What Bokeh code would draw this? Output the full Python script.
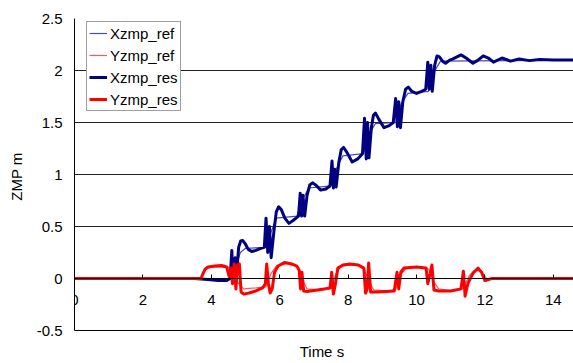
from bokeh.plotting import figure
from bokeh.models import LinearAxis, FixedTicker, Legend, LegendItem
from bokeh.embed import file_html
from bokeh.resources import INLINE

# ---- data (time s, ZMP m) ----
xzmp_ref = [(0, 0), (4.5, 0), (4.65, 0.05), (4.85, 0.25), (5.0, 0.29), (5.6, 0.3), (5.75, 0.45),
            (5.9, 0.58), (6.5, 0.6), (6.65, 0.75), (6.85, 0.87), (7.5, 0.89), (7.65, 1.05),
            (7.85, 1.18), (8.45, 1.2), (8.6, 1.38), (8.8, 1.49), (9.4, 1.5), (9.55, 1.68),
            (9.75, 1.78), (10.35, 1.8), (10.5, 1.98), (10.7, 2.09), (14.6, 2.1)]

yzmp_ref = [(0, 0), (3.7, 0), (3.85, 0.09), (4.0, 0.11), (4.5, 0.11), (4.65, 0.05), (4.8, -0.05),
            (4.95, -0.1), (5.3, -0.09), (5.6, -0.08), (5.75, 0.05), (5.9, 0.12), (6.2, 0.14),
            (6.5, 0.12), (6.65, 0.0), (6.8, -0.1), (7.2, -0.11), (7.5, -0.1), (7.65, 0.05),
            (7.8, 0.12), (8.2, 0.13), (8.45, 0.11), (8.6, -0.02), (8.75, -0.11), (9.2, -0.12),
            (9.4, -0.1), (9.55, 0.04), (9.7, 0.1), (10.1, 0.11), (10.35, 0.09), (10.5, -0.03),
            (10.65, -0.1), (11.1, -0.12), (11.35, -0.1), (11.55, 0.03), (11.7, 0.08),
            (11.9, 0.07), (12.05, 0.0), (14.6, 0.0)]

xzmp_res = [(0, 0), (3.5, 0), (3.9, -0.01), (4.2, -0.02), (4.45, -0.02), (4.55, 0.0), (4.6, 0.27),
            (4.64, -0.03), (4.7, 0.2), (4.74, 0.05), (4.8, 0.3), (4.86, 0.36), (4.92, 0.365),
            (5.0, 0.33), (5.08, 0.28), (5.18, 0.26), (5.3, 0.27), (5.45, 0.29), (5.55, 0.3),
            (5.6, 0.58), (5.65, 0.25), (5.7, 0.5), (5.75, 0.2), (5.83, 0.45), (5.9, 0.64),
            (5.97, 0.69), (6.05, 0.66), (6.15, 0.58), (6.27, 0.53), (6.4, 0.56), (6.55, 0.6),
            (6.6, 0.82), (6.64, 0.6), (6.68, 0.8), (6.73, 0.6), (6.8, 0.8), (6.88, 0.9),
            (6.96, 0.92), (7.05, 0.9), (7.2, 0.85), (7.35, 0.86), (7.47, 0.89), (7.53, 1.13),
            (7.57, 0.87), (7.61, 1.05), (7.65, 0.88), (7.73, 1.12), (7.8, 1.24), (7.87, 1.26),
            (7.97, 1.21), (8.12, 1.12), (8.28, 1.15), (8.42, 1.2), (8.48, 1.54), (8.53, 1.15),
            (8.57, 1.5), (8.61, 1.16), (8.68, 1.45), (8.74, 1.57), (8.8, 1.59), (8.9, 1.53),
            (9.05, 1.45), (9.2, 1.47), (9.32, 1.5), (9.39, 1.73), (9.44, 1.46), (9.48, 1.7),
            (9.53, 1.45), (9.6, 1.7), (9.68, 1.82), (9.76, 1.84), (9.86, 1.8), (10.0, 1.78),
            (10.15, 1.8), (10.27, 1.82), (10.33, 2.08), (10.37, 1.82), (10.42, 2.05),
            (10.46, 1.8), (10.53, 2.05), (10.6, 2.14), (10.67, 2.13), (10.76, 2.09),
            (10.85, 2.07), (10.97, 2.1), (11.05, 2.11), (11.3, 2.15), (11.45, 2.12),
            (11.65, 2.07), (11.8, 2.1), (11.95, 2.14), (12.1, 2.12), (12.25, 2.08), (12.5, 2.12),
            (12.75, 2.09), (13.0, 2.11), (13.3, 2.095), (13.6, 2.105), (14.0, 2.1), (14.6, 2.1)]

yzmp_res = [(0, 0), (3.7, 0), (3.76, 0.05), (3.82, 0.09), (3.9, 0.11), (4.1, 0.12), (4.3, 0.125),
            (4.45, 0.11), (4.52, 0.02), (4.58, 0.1), (4.62, -0.05), (4.67, 0.14), (4.72, -0.1),
            (4.77, 0.13), (4.82, 0.14), (4.87, -0.13), (4.95, -0.15), (5.1, -0.14), (5.3, -0.12),
            (5.5, -0.09), (5.58, -0.05), (5.62, 0.14), (5.67, -0.05), (5.72, -0.14), (5.78, -0.1),
            (5.85, 0.06), (5.95, 0.12), (6.15, 0.155), (6.35, 0.14), (6.5, 0.12), (6.57, 0.08),
            (6.61, -0.1), (6.65, 0.06), (6.7, -0.12), (6.8, -0.125), (7.0, -0.115), (7.3, -0.1),
            (7.47, -0.09), (7.52, 0.06), (7.57, -0.15), (7.63, -0.05), (7.7, 0.1), (7.85, 0.13),
            (8.05, 0.14), (8.3, 0.13), (8.46, 0.1), (8.51, -0.14), (8.56, -0.1), (8.6, 0.15),
            (8.66, -0.13), (8.8, -0.13), (9.1, -0.125), (9.35, -0.12), (9.43, 0.06), (9.48, -0.1),
            (9.54, 0.06), (9.63, 0.1), (10.0, 0.11), (10.28, 0.1), (10.33, -0.05), (10.4, 0.05),
            (10.45, 0.13), (10.51, -0.11), (10.65, -0.12), (11.0, -0.12), (11.3, -0.1),
            (11.37, 0.07), (11.42, -0.17), (11.5, -0.05), (11.65, 0.05), (11.8, 0.1),
            (11.9, 0.06), (12.0, -0.02), (12.2, 0.0), (14.6, 0.0)]

x_ticks = [0, 2, 4, 6, 8, 10, 12, 14]
x_tick_labels = ["0", "2", "4", "6", "8", "10", "12", "14"]
y_ticks = [-0.5, 0, 0.5, 1, 1.5, 2, 2.5]
y_tick_labels = ["-0.5", "0", "0.5", "1", "1.5", "2", "2.5"]
series_names = ["Xzmp_ref", "Yzmp_ref", "Xzmp_res", "Yzmp_res"]

FONT = "Liberation Sans"

p = figure(width=573, height=363, x_range=(0, 14.59), y_range=(-0.5, 2.5),
           output_backend="svg", toolbar_location=None,
           min_border_left=74, min_border_right=0, min_border_top=18, min_border_bottom=33)
p.outline_line_color = None
p.background_fill_color = "white"
p.border_fill_color = "white"

# y grid lines (black)
p.xgrid.visible = False
p.ygrid.ticker = FixedTicker(ticks=y_ticks)
p.ygrid.grid_line_color = "#222222"
p.ygrid.grid_line_width = 1

# left axis
p.yaxis.ticker = FixedTicker(ticks=y_ticks)
p.yaxis.major_label_overrides = {t: l for t, l in zip(y_ticks, y_tick_labels)}
p.yaxis.major_tick_in = 0
p.yaxis.major_tick_out = 0
p.yaxis.minor_tick_line_color = None
p.yaxis.axis_line_color = "black"
p.yaxis.major_label_standoff = 12
p.yaxis.major_label_text_font = FONT
p.yaxis.major_label_text_font_size = "15px"
p.yaxis.major_label_text_color = "black"
p.yaxis.axis_label = "ZMP  m"
p.yaxis.axis_label_text_font = FONT
p.yaxis.axis_label_text_font_size = "15px"
p.yaxis.axis_label_text_font_style = "normal"
p.yaxis.axis_label_text_color = "black"
p.yaxis.axis_label_standoff = 9

# bottom axis: only line + title
p.xaxis.ticker = FixedTicker(ticks=[])
p.xaxis.axis_line_color = "black"
p.xaxis.major_tick_line_color = None
p.xaxis.minor_tick_line_color = None
p.xaxis.axis_label = "Time  s"
p.xaxis.axis_label_text_font = FONT
p.xaxis.axis_label_text_font_size = "15px"
p.xaxis.axis_label_text_font_style = "normal"
p.xaxis.axis_label_text_color = "black"
p.xaxis.axis_label_standoff = 12

# axis crossing at y = 0 with tick labels
ax0 = LinearAxis(fixed_location=0, ticker=FixedTicker(ticks=x_ticks))
ax0.major_label_overrides = {t: l for t, l in zip(x_ticks, x_tick_labels)}
ax0.axis_line_color = "black"
ax0.major_tick_in = 4
ax0.major_tick_out = 0
ax0.major_tick_line_color = "black"
ax0.minor_tick_line_color = None
ax0.major_label_standoff = 16
ax0.major_label_text_font = FONT
ax0.major_label_text_font_size = "15px"
ax0.major_label_text_color = "black"
p.add_layout(ax0, "below")

def unzip(pairs):
    return [a for a, _ in pairs], [b for _, b in pairs]

t, v = unzip(xzmp_ref)
r_xref = p.line(t, v, line_color="#4a4aa8", line_width=1.2)
t, v = unzip(yzmp_ref)
r_yref = p.line(t, v, line_color="#ff5a5a", line_width=1.2)
t, v = unzip(xzmp_res)
r_xres = p.line(t, v, line_color="#000080", line_width=3, line_join="round")
t, v = unzip(yzmp_res)
r_yres = p.line(t, v, line_color="#ff0000", line_width=3, line_join="round")

legend = Legend(items=[LegendItem(label=n, renderers=[r]) for n, r in
                       zip(series_names, [r_xref, r_yref, r_xres, r_yres])],
                location=(12, 219))
legend.border_line_color = "#404040"
legend.border_line_width = 1
legend.background_fill_color = "white"
legend.background_fill_alpha = 1
legend.label_text_font = FONT
legend.label_text_font_size = "15px"
legend.label_text_color = "black"
legend.padding = 2
legend.spacing = 4
legend.margin = 0
legend.glyph_width = 18
legend.glyph_height = 18
legend.label_height = 18
legend.label_standoff = 3
p.add_layout(legend, "center")

open("out.html", "w").write(file_html(p, INLINE))
